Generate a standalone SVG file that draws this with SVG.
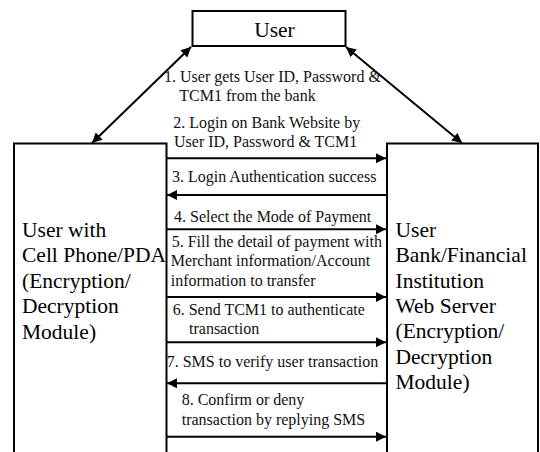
<svg xmlns="http://www.w3.org/2000/svg" width="540" height="452" viewBox="0 0 540 452">
  <style>
    .box { fill: #fff; stroke: #000; stroke-width: 2; }
    .big { font-size: 21.5px; fill: #000; }
    .lbl { font-size: 16px; fill: #111; }
    .msg { stroke: #000; stroke-width: 2; fill: none; }
  </style>
  <defs>
    <marker id="head" viewBox="0 0 10 10" refX="10" refY="5" markerWidth="10" markerHeight="10" markerUnits="userSpaceOnUse" orient="auto-start-reverse">
      <path d="M0,0 L10,5 L0,10 Z" fill="#000"/>
    </marker>
  </defs>
  <rect width="540" height="452" fill="#fff"/>

  <g font-family="Liberation Serif, Times New Roman, DejaVu Serif, serif">
  <g id="user">
    <rect class="box" x="192.5" y="11" width="153" height="35"/>
    <text class="big" x="274.5" y="37" text-anchor="middle" font-size="20">User</text>
  </g>

  <g id="phone">
    <rect class="box" x="14" y="143.5" width="152.5" height="320"/>
    <text class="big" x="22" y="236.6">
      <tspan x="22">User with</tspan>
      <tspan x="22" dy="25.6">Cell Phone/PDA</tspan>
      <tspan x="22" dy="25.6">(Encryption/</tspan>
      <tspan x="22" dy="25.6">Decryption</tspan>
      <tspan x="22" dy="25.6">Module)</tspan>
    </text>
  </g>

  <g id="bank">
    <rect class="box" x="387" y="143.5" width="151" height="320"/>
    <text class="big" x="395.5" y="236.7">
      <tspan x="395.5">User</tspan>
      <tspan x="395.5" dy="25.4">Bank/Financial</tspan>
      <tspan x="395.5" dy="25.4">Institution</tspan>
      <tspan x="395.5" dy="25.4">Web Server</tspan>
      <tspan x="395.5" dy="25.4">(Encryption/</tspan>
      <tspan x="395.5" dy="25.4">Decryption</tspan>
      <tspan x="395.5" dy="25.4">Module)</tspan>
    </text>
  </g>

  <g id="connectors">
    <line class="msg" x1="191" y1="47" x2="92" y2="143" marker-start="url(#head)" marker-end="url(#head)"/>
    <line class="msg" x1="346" y1="47" x2="462" y2="143" marker-start="url(#head)" marker-end="url(#head)"/>
    <line class="msg" x1="167" y1="158.3" x2="386" y2="158.3" marker-end="url(#head)"/>
    <line class="msg" x1="386" y1="195" x2="167" y2="195" marker-end="url(#head)"/>
    <line class="msg" x1="167" y1="229.3" x2="386" y2="229.3" marker-end="url(#head)"/>
    <line class="msg" x1="167" y1="297" x2="386" y2="297" marker-end="url(#head)"/>
    <line class="msg" x1="167" y1="342.3" x2="386" y2="342.3" marker-end="url(#head)"/>
    <line class="msg" x1="386" y1="383.3" x2="167" y2="383.3" marker-end="url(#head)"/>
    <line class="msg" x1="167" y1="436.7" x2="386" y2="436.7" marker-end="url(#head)"/>
  </g>

  <g id="labels">
    <text class="lbl" x="164" y="81.7">1. User gets User ID, Password &amp;</text>
    <text class="lbl" x="179.3" y="101">TCM1 from the bank</text>
    <text class="lbl" x="173.3" y="128.3">2. Login on Bank Website by</text>
    <text class="lbl" x="174" y="147.3">User ID, Password &amp; TCM1</text>
    <text class="lbl" x="172" y="181.7">3. Login Authentication success</text>
    <text class="lbl" x="174" y="221.7">4. Select the Mode of Payment</text>
    <text class="lbl" x="171.7" y="246.7">5. Fill the detail of payment with</text>
    <text class="lbl" x="170.7" y="266.3">Merchant information/Account</text>
    <text class="lbl" x="170.7" y="285.7">information to transfer</text>
    <text class="lbl" x="172.7" y="315">6. Send TCM1 to authenticate</text>
    <text class="lbl" x="189" y="334">transaction</text>
    <text class="lbl" x="166.7" y="366.7">7. SMS to verify user transaction</text>
    <text class="lbl" x="181.7" y="405">8. Confirm or deny</text>
    <text class="lbl" x="181.7" y="425">transaction by replying SMS</text>
  </g>
  </g>
</svg>
